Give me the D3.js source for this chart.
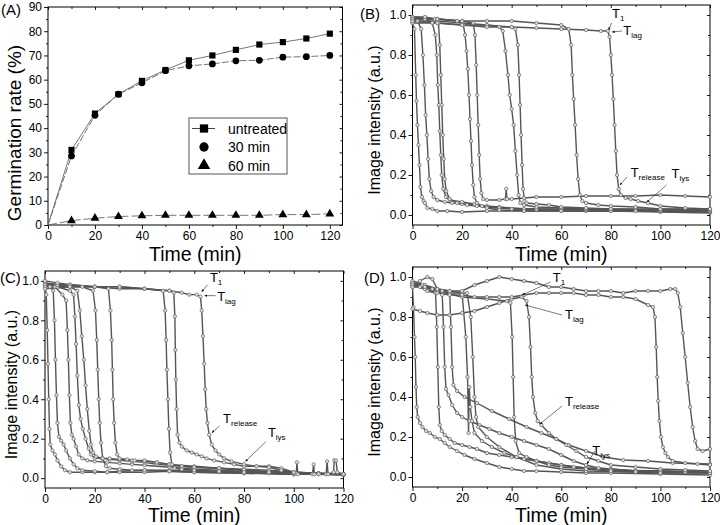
<!DOCTYPE html>
<html>
<head>
<meta charset="utf-8">
<title>Germination rate and image intensity</title>
<script src="https://d3js.org/d3.v7.min.js"></script>
<style>
  body { margin: 0; background: #fff; }
  svg { font-family: "Liberation Sans", Arial, sans-serif; }
</style>
</head>
<body>
<div id="chart"></div>
<script>
// ---- panel A: germination rate (%) ----
const timesA = [0, 10, 20, 30, 40, 50, 60, 70, 80, 90, 100, 110, 120];
const untreated = [0, 31, 46, 54, 59.5, 64, 68, 70, 72.3, 74.5, 75.5, 77, 79];
const min30 = [0, 28.5, 45.3, 54, 58.7, 63.7, 65.7, 66.5, 67.8, 68, 69.3, 69.5, 70];
const min60 = [0, 1.8, 2.8, 3.5, 3.8, 4, 4, 4, 4, 4, 4.3, 4.3, 4.6];
const legendA = ["untreated", "30 min", "60 min"];

// ---- panels B, C, D: image intensity traces, [time (min), intensity] ----
const tracesB = [
  [[0,0.96],[0.8,0.93],[1.3,0.7],[1.6,0.57],[2,0.45],[2.4,0.35],[2.8,0.25],[3.2,0.14],[3.8,0.09],[4.5,0.07],[5,0.06],[6,0.035],[8,0.03],[10,0.02],[14,0.02],[20,0.015],[30,0.02],[45,0.02],[60,0.02],[80,0.02],[100,0.015],[120,0.01]],
  [[0,0.98],[2,0.97],[3.5,0.93],[4.2,0.8],[4.8,0.65],[5.3,0.5],[5.8,0.4],[6.3,0.28],[6.8,0.18],[7.5,0.12],[8.5,0.09],[10,0.075],[13,0.065],[16,0.06],[20,0.055],[25,0.05],[30,0.045],[35,0.04],[45,0.03],[60,0.03],[80,0.025],[100,0.02],[120,0.02]],
  [[0,0.99],[5,0.98],[8,0.96],[9.2,0.9],[9.8,0.8],[10.2,0.65],[10.6,0.55],[11,0.42],[11.4,0.3],[11.8,0.2],[12.4,0.13],[13.5,0.09],[15,0.075],[20,0.065],[25,0.055],[30,0.04],[40,0.03],[50,0.025],[70,0.02],[90,0.02],[120,0.015]],
  [[0,0.99],[5,0.99],[9,0.98],[10.5,0.96],[11,0.85],[11.4,0.7],[11.8,0.55],[12.2,0.4],[12.6,0.28],[13,0.18],[13.6,0.12],[15,0.08],[18,0.06],[22,0.05],[26,0.045],[35,0.035],[50,0.03],[70,0.025],[100,0.02],[120,0.02]],
  [[0,0.99],[10,0.98],[18,0.97],[20.5,0.95],[21.2,0.9],[21.8,0.82],[22.3,0.73],[22.8,0.6],[23.2,0.48],[23.6,0.37],[24,0.25],[24.5,0.15],[25,0.09],[26,0.06],[28,0.045],[30,0.035],[35,0.025],[45,0.02],[60,0.02],[80,0.02],[100,0.02],[120,0.02]],
  [[0,0.98],[10,0.98],[20,0.97],[24.5,0.96],[25.2,0.9],[25.7,0.75],[26.1,0.6],[26.5,0.45],[26.9,0.3],[27.3,0.18],[27.8,0.11],[28.5,0.08],[30,0.075],[35,0.075],[37.5,0.08],[37.8,0.13],[38.1,0.08],[40,0.08],[45,0.085],[50,0.09],[60,0.09],[70,0.095],[80,0.095],[90,0.095],[100,0.1],[110,0.095],[120,0.09]],
  [[0,0.97],[10,0.97],[20,0.96],[30,0.95],[35,0.94],[36.4,0.92],[37.5,0.82],[38.5,0.7],[39.2,0.6],[40,0.53],[40.8,0.45],[41.5,0.32],[42.2,0.2],[42.8,0.1],[43.5,0.06],[45,0.05],[50,0.04],[60,0.035],[70,0.03],[80,0.03],[100,0.025],[120,0.02]],
  [[0,0.96],[10,0.96],[20,0.95],[30,0.95],[40,0.94],[41.5,0.93],[42.5,0.85],[43,0.7],[43.4,0.55],[43.8,0.4],[44.2,0.25],[44.6,0.13],[45.2,0.07],[46,0.06],[50,0.055],[55,0.05],[60,0.04],[70,0.035],[80,0.03],[100,0.03],[120,0.03]],
  [[0,0.98],[10,0.98],[20,0.97],[30,0.97],[40,0.97],[50,0.96],[60,0.95],[63,0.93],[64,0.85],[64.5,0.7],[65,0.58],[65.6,0.45],[66.2,0.3],[66.8,0.18],[67.5,0.1],[68.5,0.07],[70,0.06],[75,0.05],[80,0.045],[90,0.04],[100,0.03],[120,0.025]],
  [[0,0.97],[10,0.96],[20,0.95],[30,0.94],[40,0.94],[50,0.935],[60,0.93],[70,0.925],[76,0.92],[78.8,0.92],[79.5,0.89],[80,0.8],[80.5,0.7],[81,0.58],[81.5,0.45],[82,0.32],[82.5,0.2],[83.2,0.13],[84,0.1],[86,0.085],[88,0.08],[91,0.07],[95,0.06],[100,0.045],[110,0.035],[120,0.03]]
];

const tracesC = [
  [[0,0.97],[0.5,0.93],[0.9,0.75],[1.2,0.58],[1.5,0.4],[1.8,0.25],[2.1,0.17],[3,0.14],[4,0.12],[5,0.09],[6.5,0.06],[8,0.04],[10,0.03],[15,0.03],[20,0.03],[25,0.03],[30,0.035],[40,0.04],[50,0.04],[60,0.035],[70,0.03],[80,0.03],[90,0.025],[100,0.02],[110,0.02],[120,0.015]],
  [[0,0.98],[2,0.97],[3.3,0.95],[3.8,0.8],[4.2,0.6],[4.6,0.42],[5,0.28],[5.6,0.21],[6.5,0.19],[7.5,0.17],[8.5,0.14],[10,0.1],[11.5,0.07],[13,0.05],[15,0.04],[20,0.035],[25,0.03],[30,0.03],[40,0.03],[50,0.035],[60,0.03],[80,0.025],[100,0.02],[120,0.02]],
  [[0,0.99],[4,0.97],[7,0.93],[8.5,0.9],[9,0.75],[9.4,0.6],[9.8,0.42],[10.2,0.28],[10.8,0.22],[11.5,0.2],[12.5,0.16],[13.5,0.12],[15,0.1],[17,0.09],[20,0.085],[25,0.08],[30,0.075],[35,0.07],[40,0.065],[50,0.055],[60,0.045],[70,0.04],[80,0.035],[100,0.025],[120,0.02]],
  [[0,0.98],[5,0.97],[10,0.95],[11.5,0.93],[12,0.82],[12.5,0.68],[13,0.52],[13.6,0.37],[14.3,0.3],[15.2,0.25],[16.3,0.2],[17.5,0.15],[18.5,0.12],[20,0.1],[23,0.1],[26,0.095],[30,0.09],[35,0.085],[40,0.08],[45,0.07],[50,0.065],[60,0.055],[70,0.05],[80,0.04],[90,0.035],[100,0.03],[110,0.025],[120,0.02]],
  [[0,0.99],[5,0.98],[10,0.97],[13,0.95],[14,0.85],[14.8,0.72],[15.6,0.6],[16.3,0.47],[17,0.35],[17.8,0.24],[18.5,0.17],[19.3,0.13],[20.5,0.11],[23,0.1],[26,0.1],[30,0.095],[35,0.09],[40,0.085],[45,0.08],[50,0.07],[60,0.06],[70,0.05],[80,0.04],[90,0.03],[100,0.025],[120,0.02]],
  [[0,0.99],[5,0.98],[10,0.98],[15,0.97],[19.3,0.95],[20.3,0.85],[20.8,0.7],[21.2,0.55],[21.6,0.4],[22,0.28],[22.5,0.18],[23.2,0.1],[24.5,0.06],[26,0.05],[30,0.045],[35,0.04],[40,0.04],[50,0.035],[60,0.03],[80,0.025],[100,0.02],[120,0.02]],
  [[0,1.0],[5,0.99],[10,0.98],[20,0.97],[25.5,0.96],[26.3,0.85],[26.8,0.7],[27.1,0.55],[27.4,0.4],[27.8,0.28],[28.3,0.18],[29,0.12],[30,0.1],[33,0.095],[36,0.09],[40,0.09],[45,0.08],[50,0.07],[55,0.06],[60,0.055],[70,0.05],[80,0.045],[90,0.04],[100,0.03],[110,0.025],[120,0.02]],
  [[0,0.98],[10,0.98],[20,0.97],[30,0.97],[40,0.96],[47.5,0.95],[48.3,0.85],[48.7,0.7],[49,0.55],[49.4,0.4],[49.8,0.25],[50.3,0.13],[51,0.07],[52,0.05],[55,0.045],[60,0.04],[70,0.035],[80,0.03],[90,0.03],[100,0.025],[101,0.025],[101.3,0.08],[101.6,0.02],[107.5,0.02],[108,0.07],[108.3,0.02],[113,0.02],[113.4,0.085],[113.8,0.02],[116,0.03],[116.3,0.09],[117,0.09],[117.5,0.03],[120,0.02]],
  [[0,0.97],[10,0.97],[20,0.97],[30,0.96],[40,0.96],[50,0.95],[51.8,0.94],[52.2,0.82],[52.4,0.65],[52.6,0.5],[52.9,0.35],[53.3,0.22],[54,0.18],[55,0.16],[57,0.14],[59,0.13],[61,0.12],[63,0.11],[65,0.1],[68,0.09],[72,0.08],[76,0.07],[80,0.06],[85,0.06],[90,0.06],[95,0.05],[100,0.03],[110,0.025],[120,0.02]],
  [[0,0.96],[10,0.97],[20,0.97],[30,0.97],[40,0.96],[50,0.95],[55,0.94],[58,0.93],[61,0.93],[62.5,0.92],[63,0.85],[63.5,0.72],[64,0.58],[64.4,0.45],[64.8,0.35],[65.3,0.28],[66,0.22],[67,0.17],[68.5,0.14],[70,0.12],[72,0.1],[75,0.085],[80,0.07],[85,0.06],[90,0.055],[95,0.04],[100,0.03],[110,0.02],[120,0.02]]
];

const tracesD = [
  [[0,0.95],[0.4,0.85],[0.8,0.7],[1.1,0.6],[1.4,0.45],[1.7,0.35],[2.1,0.3],[3,0.27],[4,0.25],[5.5,0.23],[7,0.22],[9,0.2],[11,0.19],[13,0.17],[15,0.15],[18,0.13],[21,0.11],[25,0.09],[30,0.07],[35,0.05],[40,0.04],[45,0.03],[50,0.03],[60,0.025],[70,0.02],[80,0.02],[100,0.015],[120,0.01]],
  [[0,0.97],[3,0.95],[6,0.93],[9.3,0.92],[9.8,0.75],[10.2,0.55],[10.6,0.35],[11,0.26],[11.8,0.23],[13,0.21],[15,0.19],[17,0.17],[20,0.16],[23,0.15],[26,0.14],[30,0.12],[35,0.11],[40,0.1],[45,0.09],[50,0.08],[55,0.07],[60,0.06],[65,0.05],[70,0.045],[80,0.04],[90,0.03],[100,0.03],[110,0.025],[120,0.02]],
  [[0,0.96],[3,0.98],[6,1.0],[8,0.99],[10,0.94],[12,0.91],[12.5,0.75],[13,0.55],[13.5,0.44],[14.5,0.41],[16,0.36],[18,0.32],[20,0.3],[23,0.28],[27,0.26],[31,0.24],[35,0.22],[40,0.2],[45,0.18],[50,0.16],[55,0.14],[60,0.11],[65,0.08],[70,0.06],[75,0.045],[80,0.04],[90,0.03],[100,0.03],[120,0.02]],
  [[0,0.97],[4,0.96],[8,0.94],[12,0.93],[15,0.92],[15.5,0.75],[16,0.55],[16.5,0.46],[18,0.43],[21,0.4],[26,0.37],[32,0.33],[39,0.29],[46,0.25],[52,0.22],[58,0.19],[63,0.16],[70,0.13],[77,0.1],[85,0.085],[95,0.08],[105,0.07],[120,0.065]],
  [[0,0.98],[5,0.96],[10,0.94],[15,0.93],[20,0.92],[21.5,0.7],[22.2,0.5],[22.6,0.22],[22.9,0.45],[23.3,0.35],[24,0.28],[25,0.22],[28,0.18],[32,0.15],[37,0.12],[42,0.1],[50,0.08],[60,0.06],[70,0.045],[80,0.035],[100,0.03],[120,0.025]],
  [[0,0.96],[5,0.95],[10,0.93],[15,0.92],[22,0.92],[23.5,0.8],[24.3,0.6],[25,0.4],[25.6,0.3],[26.5,0.25],[30,0.2],[35,0.15],[42,0.1],[50,0.06],[60,0.04],[70,0.03],[90,0.025],[120,0.02]],
  [[0,0.97],[10,0.93],[20,0.9],[30,0.89],[38,0.88],[39.5,0.87],[40.2,0.7],[40.6,0.5],[41,0.3],[41.6,0.18],[43,0.12],[46,0.1],[50,0.08],[55,0.06],[60,0.05],[70,0.04],[80,0.03],[100,0.02],[120,0.02]],
  [[0,0.84],[3,0.83],[6,0.82],[10,0.81],[15,0.81],[20,0.82],[25,0.83],[30,0.85],[35,0.87],[40,0.89],[44,0.9],[46,0.88],[47,0.8],[47.6,0.65],[48.1,0.5],[48.6,0.4],[49.5,0.32],[50.5,0.28],[52,0.26],[55,0.22],[58,0.19],[62,0.16],[66,0.13],[70,0.1],[75,0.08],[80,0.06],[90,0.05],[100,0.04],[110,0.035],[120,0.03]],
  [[0,0.96],[5,0.94],[10,0.92],[15,0.91],[20,0.91],[25,0.9],[30,0.9],[35,0.9],[40,0.9],[45,0.91],[50,0.92],[55,0.92],[60,0.92],[65,0.92],[70,0.91],[75,0.91],[80,0.9],[85,0.9],[90,0.89],[95,0.86],[97,0.85],[97.8,0.8],[98.3,0.65],[98.7,0.5],[99.1,0.38],[99.6,0.28],[100.2,0.2],[101,0.15],[102,0.12],[103,0.1],[105,0.08],[110,0.07],[115,0.065],[120,0.06]],
  [[0,0.95],[5,0.95],[10,0.94],[15,0.93],[20,0.93],[25,0.96],[30,0.98],[35,1.0],[40,0.99],[45,0.98],[50,0.97],[55,0.95],[60,0.95],[65,0.94],[70,0.93],[75,0.93],[80,0.93],[85,0.92],[90,0.93],[95,0.93],[100,0.93],[104,0.94],[106,0.94],[107,0.92],[108,0.85],[109,0.72],[110,0.6],[111,0.47],[112,0.35],[113,0.25],[114,0.18],[115,0.14],[117,0.13],[120,0.14]]
];

// annotation anchors, in data units: label at [t, v], arrow from -> to
const notesB = [
  {sub: "1", at: [80.5, 0.985], from: [80.3, 0.96], to: [79.1, 0.925]},
  {sub: "lag", at: [85, 0.9], from: [84.5, 0.92], to: [80.5, 0.915]},
  {sub: "release", at: [88, 0.19], from: [86.5, 0.19], to: [83.7, 0.15]},
  {sub: "lys", at: [104.5, 0.185], from: [102.5, 0.15], to: [94.5, 0.065]}
];
const notesC = [
  {sub: "1", at: [66.3, 0.995], from: [65.3, 0.98], to: [63, 0.945]},
  {sub: "lag", at: [69.2, 0.9], from: [68.6, 0.925], to: [64.2, 0.925]},
  {sub: "release", at: [71.6, 0.28], from: [70.2, 0.265], to: [67.1, 0.23]},
  {sub: "lys", at: [89.6, 0.21], from: [88.8, 0.185], to: [80.6, 0.085]}
];
const notesD = [
  {sub: "1", at: [56.6, 0.975], from: [55.6, 0.975], to: [44.3, 0.91]},
  {sub: "lag", at: [61.5, 0.79], from: [60.3, 0.81], to: [45.4, 0.86]},
  {sub: "release", at: [61.5, 0.355], from: [60.3, 0.355], to: [51.4, 0.265]},
  {sub: "lys", at: [72.5, 0.11], from: [73.5, 0.13], to: [70.4, 0.065]}
];

const W = 720, H = 525;
const svg = d3.select("#chart").append("svg")
    .attr("width", W)
    .attr("height", H);

svg.append("defs").append("marker")
    .attr("id", "arrow")
    .attr("viewBox", "0 0 10 10")
    .attr("refX", 9).attr("refY", 5)
    .attr("markerWidth", 5).attr("markerHeight", 5)
    .attr("orient", "auto")
  .append("path")
    .attr("d", "M0,1 L10,5 L0,9 z")
    .attr("fill", "#111");

// frame with Origin-style ticks: outward on left/bottom with labels, inward mirrors on top/right
function drawFrame(g, x, y, o) {
  const [x0, x1] = x.range(), [y0, y1] = y.range();

  function tickAxis(axis, pos, values, size, fmt) {
    const a = g.append("g").attr("transform", pos)
        .call(axis.tickValues(values).tickSize(size).tickSizeOuter(0)
          .tickPadding(2).tickFormat(fmt || ""));
    a.select(".domain").remove();
    a.selectAll("line").attr("stroke", "#000").attr("stroke-width", 0.9);
    a.selectAll("text").attr("font-size", 12).attr("font-family", "Liberation Sans, Arial, sans-serif").attr("fill", "#000");
    return a;
  }
  tickAxis(d3.axisBottom(x), `translate(0,${y0})`, o.xMajor, 4, d3.format("d"));
  tickAxis(d3.axisBottom(x), `translate(0,${y0})`, o.xMinor, 2);
  tickAxis(d3.axisTop(x), `translate(0,${y1})`, o.xMajor, -3);
  tickAxis(d3.axisTop(x), `translate(0,${y1})`, o.xMinor, -2);
  tickAxis(d3.axisLeft(y), `translate(${x0},0)`, o.yMajor, 4, o.yFmt);
  tickAxis(d3.axisLeft(y), `translate(${x0},0)`, o.yMinor, 2);
  tickAxis(d3.axisRight(y), `translate(${x1},0)`, o.yMajor, -3);
  tickAxis(d3.axisRight(y), `translate(${x1},0)`, o.yMinor, -2);

  g.append("rect")
      .attr("x", x0).attr("y", y1)
      .attr("width", x1 - x0).attr("height", y0 - y1)
      .attr("fill", "none").attr("stroke", "#000").attr("stroke-width", 1);

  g.append("text")
      .attr("x", (x0 + x1) / 2).attr("y", o.xTitleY)
      .attr("text-anchor", "middle")
      .attr("font-size", o.titleSize)
      .text("Time (min)");
  g.append("text")
      .attr("transform", `translate(${o.yTitleX},${(y0 + y1) / 2 + o.yTitleShift}) rotate(-90)`)
      .attr("text-anchor", "middle")
      .attr("dy", "0.35em")
      .attr("font-size", o.yTitleSize)
      .text(o.yTitle);
  g.append("text")
      .attr("x", o.letter[1]).attr("y", o.letter[2])
      .attr("font-size", 15)
      .text(o.letter[0]);
}

// ---- panel A ----
{
  const g = svg.append("g");
  const x = d3.scaleLinear().domain([0, 125.4]).range([48, 342.5]);
  const y = d3.scaleLinear().domain([0, 90]).range([225, 7]);

  drawFrame(g, x, y, {
    xMajor: d3.range(0, 121, 20), xMinor: d3.range(10, 121, 20),
    yMajor: d3.range(0, 91, 10), yMinor: d3.range(5, 90, 10),
    yFmt: d3.format("d"),
    xTitleY: 261, titleSize: 19.5,
    yTitle: "Germination rate (%)", yTitleX: 14, yTitleShift: 17, yTitleSize: 19,
    letter: ["(A)", 1, 15]
  });

  const series = [
    {vals: untreated, sym: d3.symbolSquare, size: 38, dash: null},
    {vals: min30, sym: d3.symbolCircle, size: 36, dash: "7,2"},
    {vals: min60, sym: d3.symbolTriangle, size: 34, dash: "9,3"}
  ];
  const line = d3.line().x(d => x(d[0])).y(d => y(d[1]));
  series.forEach(s => {
    const pts = timesA.map((t, i) => [t, s.vals[i]]);
    g.append("path")
        .attr("d", line(pts))
        .attr("fill", "none")
        .attr("stroke", "#666")
        .attr("stroke-width", 0.9)
        .attr("stroke-dasharray", s.dash);
    g.selectAll(null).data(pts.slice(1)).enter().append("path")
        .attr("transform", d => `translate(${x(d[0])},${y(d[1])})`)
        .attr("d", d3.symbol().type(s.sym).size(s.size))
        .attr("fill", "#000");
  });

  // legend
  const lg = g.append("g").attr("transform", "translate(189,118)");
  lg.append("rect").attr("width", 98).attr("height", 56)
      .attr("fill", "#fff").attr("stroke", "#555").attr("stroke-width", 1);
  lg.append("line").attr("x1", 3).attr("x2", 26).attr("y1", 10.5).attr("y2", 10.5)
      .attr("stroke", "#444").attr("stroke-width", 1);
  legendA.forEach((name, i) => {
    lg.append("path")
        .attr("transform", `translate(15,${10.5 + i * 18.5})`)
        .attr("d", d3.symbol().type(series[i].sym).size(68))
        .attr("fill", "#000");
    lg.append("text")
        .attr("x", 39).attr("y", 10.5 + i * 18.5)
        .attr("dy", "0.36em")
        .attr("font-size", 14)
        .text(name);
  });
}

// ---- panels B, C, D ----
function intensityPanel(traces, notes, xr, yr, o) {
  const g = svg.append("g");
  const x = d3.scaleLinear().domain([0, 120]).range(xr);
  const y = d3.scaleLinear().domain([-0.05, 1.05]).range(yr);

  drawFrame(g, x, y, {
    xMajor: d3.range(0, 121, 20), xMinor: d3.range(10, 120, 20),
    yMajor: d3.range(0, 1.01, 0.2), yMinor: [0.1, 0.3, 0.5, 0.7, 0.9],
    yFmt: d3.format(".1f"),
    xTitleY: o.xTitleY, titleSize: 19.5,
    yTitle: "Image intensity (a.u.)", yTitleX: o.yTitleX, yTitleShift: 5, yTitleSize: 16,
    letter: o.letter
  });

  const line = d3.line().x(d => x(d[0])).y(d => y(d[1]));
  const tg = g.append("g");
  traces.forEach(tr => {
    tg.append("path")
        .attr("d", line(tr))
        .attr("fill", "none")
        .attr("stroke", "#555")
        .attr("stroke-width", 1.4);
  });
  traces.forEach(tr => {
    tg.selectAll(null).data(tr).enter().append("circle")
        .attr("cx", d => x(d[0]))
        .attr("cy", d => y(d[1]))
        .attr("r", 1.7)
        .attr("fill", "#ddd")
        .attr("stroke", "#666")
        .attr("stroke-width", 0.7);
  });

  notes.forEach(n => {
    g.append("line")
        .attr("x1", x(n.from[0])).attr("y1", y(n.from[1]))
        .attr("x2", x(n.to[0])).attr("y2", y(n.to[1]))
        .attr("stroke", "#222").attr("stroke-width", 0.6)
        .attr("marker-end", "url(#arrow)");
    const t = g.append("text")
        .attr("x", x(n.at[0])).attr("y", y(n.at[1]))
        .attr("font-size", 13);
    t.append("tspan").text("T");
    t.append("tspan").attr("font-size", 8).attr("dy", 3).text(n.sub);
  });
}

intensityPanel(tracesB, notesB, [412.5, 710], [225, 5],
  {xTitleY: 261, yTitleX: 374, letter: ["(B)", 360, 19]});
intensityPanel(tracesC, notesC, [45, 343.5], [488, 271],
  {xTitleY: 522, yTitleX: 11, letter: ["(C)", 0, 283]});
intensityPanel(tracesD, notesD, [412.5, 710], [487, 267],
  {xTitleY: 522, yTitleX: 374, letter: ["(D)", 364, 283]});
</script>
</body>
</html>
